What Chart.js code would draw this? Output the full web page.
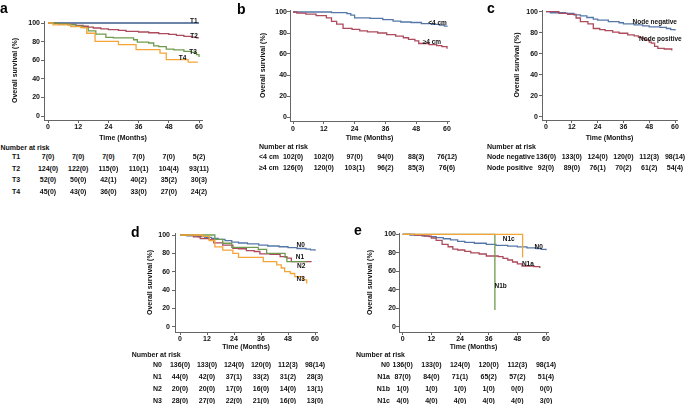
<!DOCTYPE html>
<html>
<head>
<meta charset="utf-8">
<title>Overall survival</title>
<script src="https://cdn.jsdelivr.net/npm/chart.js@4.4.1/dist/chart.umd.min.js"></script>
<style>
  body { margin: 0; background: #fff; }
  #fig { position: relative; width: 685px; height: 404px; overflow: hidden;
         font-family: "Liberation Sans", Arial, Helvetica, sans-serif; color: #111; }
  #fig canvas { position: absolute; }
  .txt { position: absolute; font-size: 7px; font-weight: bold; line-height: 9px; white-space: nowrap; transform: translateY(-50%); }
  .mid { transform: translate(-50%, -50%); }
  .end { transform: translate(-100%, -50%); }
  .tag { font-size: 6.5px; }
  .letter { position: absolute; font-size: 14px; font-weight: bold; line-height: 14px; color: #000; }
</style>
</head>
<body>
<div id="fig"></div>
<script>
const months = [0, 12, 24, 36, 48, 60];
const survTicks = [0, 20, 40, 60, 80, 100];

// a: T stage, points are [month, survival %]
const aNames = ['T1', 'T2', 'T3', 'T4'];
const aT1 = [[0, 100], [60, 100]];
const aT2 = [[0, 100], [4, 99.3], [8, 98.5], [11, 97.5], [14, 96.5], [16, 95.5], [18, 94.6], [21, 93.6], [24, 92.8],
             [28, 92], [31, 91], [36, 90.3], [40, 89.5], [44, 88.6], [48, 87.8], [51, 86.8], [54, 85.7], [57, 84.8], [59, 84], [60, 84]];
const aT3 = [[0, 100], [4, 99], [8, 98], [11, 96.5], [14, 95], [16, 91.5], [19, 88], [23, 84.5], [26, 84], [34, 82],
             [35.5, 79.5], [40, 78.5], [42, 75.5], [44, 74.5], [47, 72], [50, 71], [54, 69.5], [57, 68.5], [59, 66], [60, 63.5]];
const aT4 = [[0, 100], [2, 98], [9, 96], [13, 95], [15.4, 89], [18.7, 80.3], [28, 76.7], [35, 71.3], [44.5, 67.7],
             [47, 60.6], [55.7, 58], [59.5, 58]];
const aRisk = [
  ['7(0)', '7(0)', '7(0)', '7(0)', '7(0)', '5(2)'],
  ['124(0)', '122(0)', '115(0)', '110(1)', '104(4)', '93(11)'],
  ['52(0)', '50(0)', '42(1)', '40(2)', '35(2)', '30(3)'],
  ['45(0)', '43(0)', '36(0)', '33(0)', '27(0)', '24(2)']
];

// b: tumour size
const bNames = ['<4 cm', '\u22654 cm'];
const bSmall = [[0, 100], [15, 99.5], [21, 98.5], [22.5, 97], [24, 94.5], [30, 94], [35, 92.7], [39, 91.4], [42, 90.5],
                [46, 90], [50, 89], [54, 88.3], [57, 87.5], [59, 86.5], [60, 86]];
const bLarge = [[0, 100], [1.5, 99], [5, 98], [9, 96.5], [13, 94.5], [15, 91], [17, 88.5], [19.5, 84.5], [23, 83.5],
                [26, 82], [29, 81], [33, 80], [36.5, 78.5], [40, 77], [43, 75.5], [45, 74], [47.5, 72.5], [49, 70],
                [53, 69], [56, 68], [58, 67], [60, 65]];
const bRisk = [
  ['102(0)', '102(0)', '97(0)', '94(0)', '88(3)', '76(12)'],
  ['126(0)', '120(0)', '103(1)', '96(2)', '85(3)', '76(6)']
];

// c: node status
const cNames = ['Node negative', 'Node positive'];
const cNeg = [[0, 100], [2, 99], [9, 98.5], [13, 97], [16, 96], [19, 94.5], [22, 93], [24, 92], [29, 90.5], [34, 89.5],
              [36, 88.5], [41, 87.5], [45, 86.5], [48, 85.5], [53, 85], [56, 84], [58, 83], [60, 82]];
const cPos = [[0, 100], [6, 98.5], [10, 97.5], [14, 94], [16, 90.5], [19.5, 88.5], [22, 84], [25, 83], [27.5, 82],
              [31, 80.5], [34, 79.5], [38, 78], [41, 77], [43, 75.5], [45, 74.5], [46, 73], [48, 71], [49, 70],
              [50.5, 67], [52, 65], [55, 64.5], [58.5, 63]];
const cRisk = [
  ['136(0)', '133(0)', '124(0)', '120(0)', '112(3)', '98(14)'],
  ['92(0)', '89(0)', '76(1)', '70(2)', '61(2)', '54(4)']
];

// d: N stage (N0 curve is shared with e)
const dNames = ['N0', 'N1', 'N2', 'N3'];
const n0 = [[0, 100], [3, 99], [8, 98.3], [11, 97.5], [14, 96.3], [17, 95.2], [20, 93.9], [23, 92.3], [26, 91.3],
            [30, 90.3], [35, 89], [39, 88], [44, 87.2], [48, 86.3], [52, 85.3], [56, 84.5], [58, 83.7], [60, 82.8]];
const dN1 = [[0, 100], [6, 98], [9, 96], [13, 95], [15, 91.5], [19, 89], [23.5, 85.5], [26, 85], [29.5, 83], [33, 82],
             [35.5, 79.5], [40, 79], [44.5, 76.5], [47.5, 74.7], [49.5, 71], [58.5, 71]];
const dN2 = [[0, 100], [15.5, 95.3], [19, 91], [23, 86.5], [34.8, 84.3], [38.5, 80], [46.7, 75.6], [47.5, 71], [56.3, 71]];
const dN3 = [[0, 100], [10, 98.5], [13, 94], [15.5, 87], [19, 83.5], [23.5, 80], [26, 75.5], [37, 71], [43, 67.5],
             [45, 64], [46.5, 60], [49, 58], [51, 54.5], [54.5, 51], [56.3, 47]];
const dRisk = [
  ['136(0)', '133(0)', '124(0)', '120(0)', '112(3)', '98(14)'],
  ['44(0)', '42(0)', '37(1)', '33(2)', '31(2)', '28(3)'],
  ['20(0)', '20(0)', '17(0)', '16(0)', '14(0)', '13(1)'],
  ['28(0)', '27(0)', '22(0)', '21(0)', '16(0)', '13(0)']
];

// e: N1 subgroups
const eNames = ['N0', 'N1a', 'N1b', 'N1c'];
const eN1a = [[0, 100], [5, 99], [9, 98], [12, 96], [14, 93.5], [16.5, 89], [19, 86.5], [21, 84], [23, 83], [26, 81.5],
              [28.5, 80], [32, 78.7], [35, 76.5], [40, 75.8], [42, 74], [44, 72.2], [46, 70], [48, 68], [50, 65.7],
              [55, 65], [57.4, 63.5]];
const eN1b = [[0, 100], [38.6, 18]];
const eN1c = [[0, 100], [50.2, 75]];
const eRisk = [
  ['136(0)', '133(0)', '124(0)', '120(0)', '112(3)', '98(14)'],
  ['87(0)', '84(0)', '71(1)', '65(2)', '57(2)', '51(4)'],
  ['1(0)', '1(0)', '1(0)', '1(0)', '0(0)', '0(0)'],
  ['4(0)', '4(0)', '4(0)', '4(0)', '4(0)', '3(0)']
];

const FONT = '"Liberation Sans", Arial, Helvetica, sans-serif';
const NAVY = '#3d5b8c', BLUE = '#5577a8', RED = '#ad4a5c', GREEN = '#6f9b4f', ORANGE = '#f4a53a';
const AXIS = '#666';
const fig = document.getElementById('fig');

// layout: box = canvas [left, top, w, h], area = plot box [l, t, r, b] in page px
const panels = [
  { letter: 'a', letterAt: [0, 1], box: [0, 10, 206, 132], area: [44, 21, 202, 120], x0: 48, x60: 199, y100: 23, y0: 116,
    yPad: 1, xPad: 0, yTitleX: 15.5, series: [aT1, aT2, aT3, aT4], colors: [NAVY, RED, GREEN, ORANGE], names: aNames,
    tagAt: [[57.9, 102.9], [58, 87.6], [57.6, 70.1], [53.5, 63.4]],
    risk: aRisk, nar: [0.5, 146.5], rowX: 12, rowAlign: 'left', rowY: [156, 167.7, 179.3, 191] },
  { letter: 'b', letterAt: [237, 1.5], box: [252, 0, 201, 142], area: [290, 10, 449, 121], x0: 293, x60: 447, y100: 12, y0: 117,
    yPad: 0, xPad: 1, yTitleX: 263, series: [bSmall, bLarge], colors: [BLUE, RED], names: bNames,
    tagAt: [[56.3, 90.5], [54.1, 72.1]],
    risk: bRisk, nar: [259, 145.7], rowX: 259, rowAlign: 'left', rowY: [156, 167.3] },
  { letter: 'c', letterAt: [487, 1], box: [505, 0, 175, 142], area: [542, 10, 677, 120], x0: 546, x60: 675, y100: 11.7, y0: 116.7,
    yPad: 1, xPad: 0, yTitleX: 516.7, series: [cNeg, cPos], colors: [BLUE, RED], names: cNames,
    tagAt: [[50.6, 90.9], [53.2, 74.7]],
    risk: cRisk, nar: [487, 146], rowX: 487, rowAlign: 'left', rowY: [156, 166.7] },
  { letter: 'd', letterAt: [131, 225], box: [140, 220, 180, 131], area: [175, 233, 317, 332], x0: 180, x60: 315, y100: 235, y0: 326.7,
    yPad: 2, xPad: 0, yTitleX: 150, series: [n0, dN1, dN2, dN3], colors: [BLUE, RED, GREEN, ORANGE], names: dNames,
    tagAt: [[53.6, 90.5], [53.3, 76.8], [53.9, 67], [53.6, 53.1]],
    risk: dRisk, nar: [131.7, 353.5], rowX: 153, rowAlign: 'left', rowY: [364, 376, 388, 399.5] },
  { letter: 'e', letterAt: [354, 222.5], box: [362, 220, 190, 131], area: [399, 233, 548, 332], x0: 402.7, x60: 546, y100: 234.3, y0: 326.7,
    yPad: 0, xPad: 0, yTitleX: 370, series: [n0, eN1a, eN1b, eN1c], colors: [BLUE, RED, GREEN, ORANGE], names: eNames,
    tagAt: [[56.9, 87.7], [52.4, 68.9], [41, 44.8], [44.4, 96.2]],
    risk: eRisk, nar: [356, 353.5], rowX: 390, rowAlign: 'right', rowY: [364, 376, 388, 399.5] }
];

function addText(text, x, y, cls) {
  const d = document.createElement('div');
  d.className = 'txt ' + (cls || '');
  d.textContent = text;
  d.style.left = x + 'px';
  d.style.top = y + 'px';
  fig.appendChild(d);
}

function drawPanel(p) {
  const [L, T, W, H] = p.box;
  const [aL, aT, aR, aB] = p.area;
  const pxM = (p.x60 - p.x0) / 60;
  const pxS = (p.y0 - p.y100) / 100;
  const cv = document.createElement('canvas');
  cv.width = W; cv.height = H;
  cv.style.left = L + 'px'; cv.style.top = T + 'px';
  cv.style.width = W + 'px'; cv.style.height = H + 'px';
  fig.appendChild(cv);

  const font = { family: FONT, size: 7, weight: 'bold' };
  const grid = { drawOnChartArea: false, tickLength: 3, color: AXIS };
  const n = p.series.length;
  const chart = new Chart(cv, {
    type: 'line',
    data: {
      datasets: p.series.map((pts, i) => ({
        data: pts.map(([t, s]) => ({ x: t, y: s })),
        borderColor: p.colors[i],
        borderWidth: 1.3,
        pointRadius: 0,
        stepped: true,
        fill: false,
        order: n - i
      }))
    },
    options: {
      responsive: false,
      animation: false,
      devicePixelRatio: 1,
      layout: { padding: { left: 0, top: aT - T, right: L + W - aR, bottom: 0 } },
      plugins: { legend: { display: false }, tooltip: { enabled: false } },
      scales: {
        x: {
          type: 'linear',
          min: -(p.x0 - aL) / pxM,
          max: 60 + (aR - p.x60) / pxM,
          afterBuildTicks: s => { s.ticks = months.map(v => ({ value: v })); },
          afterFit: s => { s.height = T + H - aB; },
          ticks: { font, color: '#111', padding: p.xPad, maxRotation: 0, autoSkip: false },
          grid,
          border: { color: AXIS },
          title: { display: true, text: 'Time (Months)', font, color: '#111', padding: 0 }
        },
        y: {
          min: -(aB - p.y0) / pxS,
          max: 100 + (p.y100 - aT) / pxS,
          afterBuildTicks: s => { s.ticks = survTicks.map(v => ({ value: v })); },
          afterFit: s => { s.width = aL - L; },
          ticks: { font, color: '#111', padding: p.yPad },
          grid,
          border: { color: AXIS },
          title: { display: true, text: 'Overall survival (%)', font, color: '#111',
                   padding: { top: p.yTitleX - L - 4.2, bottom: 0 } }
        }
      }
    }
  });

  const xs = chart.scales.x, ys = chart.scales.y;
  const px = t => L + xs.getPixelForValue(t);
  const py = s => T + ys.getPixelForValue(s);

  p.names.forEach((name, i) => {
    const [t, s] = p.tagAt[i];
    addText(name, px(t), py(s), 'mid tag');
  });

  addText('Number at risk', p.nar[0], p.nar[1]);
  p.risk.forEach((row, i) => {
    addText(p.names[i], p.rowX, p.rowY[i], p.rowAlign === 'right' ? 'end' : '');
    row.forEach((v, j) => addText(v, px(months[j]), p.rowY[i], 'mid'));
  });

  const lt = document.createElement('div');
  lt.className = 'letter';
  lt.textContent = p.letter;
  lt.style.left = p.letterAt[0] + 'px';
  lt.style.top = p.letterAt[1] + 'px';
  fig.appendChild(lt);
}

panels.forEach(drawPanel);
</script>
</body>
</html>
